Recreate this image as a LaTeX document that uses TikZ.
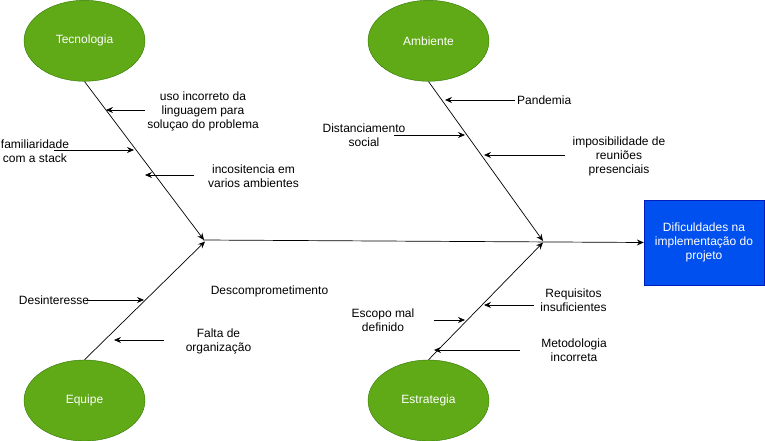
\documentclass[tikz,border=0pt]{standalone}
\usepackage{fontspec}
\setmainfont{Liberation Sans}
\usetikzlibrary{arrows.meta,shapes.geometric}
\definecolor{grfill}{HTML}{60A917}
\definecolor{grline}{HTML}{2D7600}
\definecolor{blfill}{HTML}{0050EF}
\definecolor{blline}{HTML}{001DBC}
\begin{document}
\begin{tikzpicture}[x=1pt,y=-1pt,
  font=\fontsize{12}{14}\selectfont,
  cat/.style={ellipse,draw=grline,fill=grfill,text=white,minimum width=121pt,minimum height=81pt,inner sep=0pt},
  goal/.style={rectangle,draw=blline,fill=blfill,text=white,minimum width=120pt,minimum height=85pt,align=center,inner sep=0pt},
  lbl/.style={align=center,inner sep=0pt},
  arr/.style={-{Stealth[length=7pt,width=6pt,inset=2.5pt]},line width=0.7pt},
  bone/.style={-{Stealth[length=7pt,width=6pt,inset=2.5pt]},line width=0.7pt}]
\useasboundingbox (0,0) rectangle (765,441);
% categories
\node[cat] (tec) at (84.5,40.8) {Tecnologia};
\node[cat] (amb) at (428.5,40.8) {Ambiente};
\node[cat] (equ) at (84.5,400.5) {Equipe};
\node[cat] (est) at (428.5,400.5) {Estrategia};
\node[goal] (res) at (704,242.5) {Dificuldades na\\implementação do\\projeto};
% spine junctions
\coordinate (jl) at (204,240);
\coordinate (jr) at (543,241);
\coordinate (sp) at (203,240);
\draw[bone] (sp) -- (res.west);
\draw[bone] (tec.south) -- (jl);
\draw[bone] (amb.south) -- (jr);
\draw[bone] (equ.north) -- (205,241.5) coordinate (jl2);
\draw[bone] (est.north) -- (543,242.5) coordinate (jr2);
% Tecnologia causes
\node[lbl] (t1) at (203,111) {uso incorreto da\\linguagem para\\soluçao do problema};
\coordinate (t1s) at (145,110); \coordinate (t1e) at (106,110);
\draw[arr] (t1s) -- (t1e);
\node[lbl] (t2) at (35,151) {familiaridade\\com a stack};
\coordinate (t2s) at (54,150); \coordinate (t2e) at (134,150);
\draw[arr] (t2s) -- (t2e);
\node[lbl] (t3) at (253.5,176) {incositencia em\\varios ambientes};
\coordinate (t3s) at (194,175); \coordinate (t3e) at (145,175);
\draw[arr] (t3s) -- (t3e);
% Ambiente causes
\node[lbl,anchor=west] (a1) at (517,100.5) {Pandemia};
\coordinate (a1s) at (515,100); \coordinate (a1e) at (445,100);
\draw[arr] (a1s) -- (a1e);
\node[lbl] (a2) at (364,135.5) {Distanciamento\\social};
\coordinate (a2s) at (394,135); \coordinate (a2e) at (465,135);
\draw[arr] (a2s) -- (a2e);
\node[lbl] (a3) at (619,156) {imposibilidade de\\reuniões\\presenciais};
\coordinate (a3s) at (565,155); \coordinate (a3e) at (484,155);
\draw[arr] (a3s) -- (a3e);
% Equipe causes
\node[lbl] (e1) at (54,300.5) {Desinteresse};
\coordinate (e1s) at (86,300); \coordinate (e1e) at (144,300);
\draw[arr] (e1s) -- (e1e);
\node[lbl] (e2) at (218.5,341) {Falta de\\organização};
\coordinate (e2s) at (164,340); \coordinate (e2e) at (114,340);
\draw[arr] (e2s) -- (e2e);
\node[lbl] (e3) at (269.5,291) {Descomprometimento};
% Estrategia causes
\node[lbl] (s1) at (383,320.5) {Escopo mal\\definido};
\coordinate (s1s) at (434,320); \coordinate (s1e) at (465,320);
\draw[arr] (s1s) -- (s1e);
\node[lbl] (s2) at (573.5,300.5) {Requisitos\\insuficientes};
\coordinate (s2s) at (534,305); \coordinate (s2e) at (484,305);
\draw[arr] (s2s) -- (s2e);
\node[lbl] (s3) at (574,350.5) {Metodologia\\incorreta};
\coordinate (s3s) at (520,350); \coordinate (s3e) at (434,350);
\draw[arr] (s3s) -- (s3e);
\end{tikzpicture}
\end{document}
